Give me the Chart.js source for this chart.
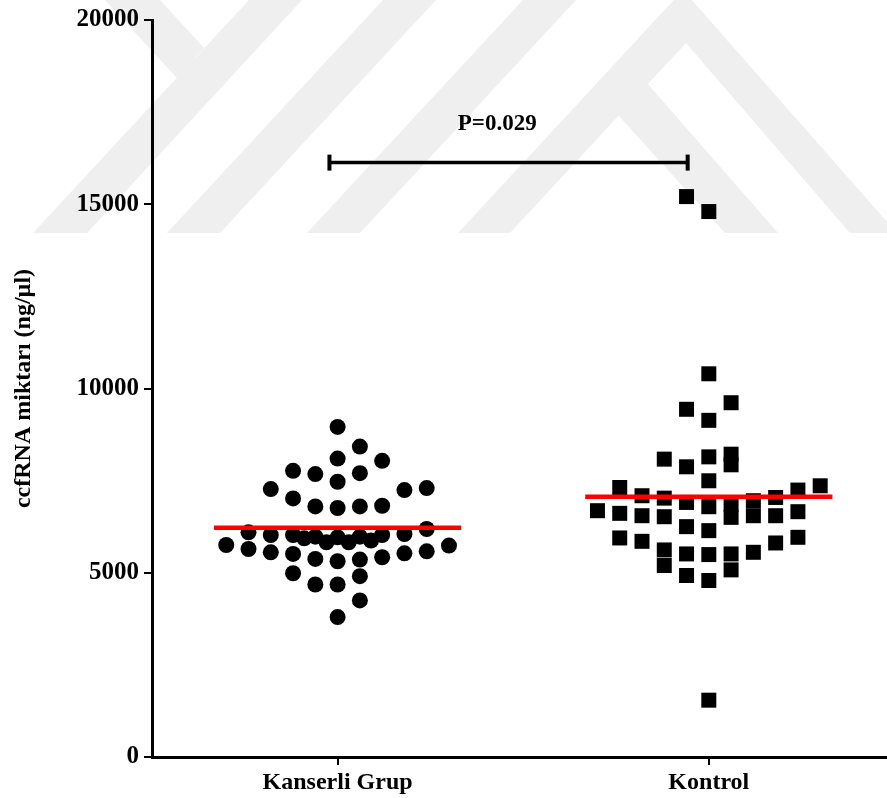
<!DOCTYPE html>
<html lang="tr">
<head>
<meta charset="utf-8">
<title>ccfRNA miktarı</title>
<script src="https://cdn.jsdelivr.net/npm/chart.js"></script>
<style>
    html, body { margin: 0; padding: 0; background: #fff; }
    #wrap { width: 887px; height: 798px; position: relative; }
</style>
</head>
<body>
<div id="wrap"><canvas id="dot-chart"></canvas></div>
<script>
// Datos
const groupLabels = ['Kanserli Grup', 'Kontrol'];
const yTicks = [0, 5000, 10000, 15000, 20000];

// Kanserli Grup (círculos): valor y desplazamiento horizontal dentro del grupo
const kanserliValues = [
    8957, 8424, 8099, 8037, 7766, 7677, 7703, 7469, 7271, 7244, 7298, 7016,
    6800, 6757, 6800, 6819,
    6097, 6025, 6025, 5934, 5980, 5825, 5962, 5825, 5980, 5872, 6025, 6052, 6188,
    5753, 5645, 5555, 5510, 5375, 5312, 5358, 5420, 5528, 5582, 5737,
    4987, 4906, 4681, 4681, 4248, 3797
];
const kanserliOffsets = [
    0, 0.06, 0, 0.12, -0.12, -0.06, 0.06, 0, -0.18, 0.18, 0.24, -0.12,
    -0.06, 0, 0.06, 0.12,
    -0.24, -0.18, -0.12, -0.09, -0.06, -0.03, 0, 0.03, 0.06, 0.09, 0.12, 0.18, 0.24,
    -0.3, -0.24, -0.18, -0.12, -0.06, 0, 0.06, 0.12, 0.18, 0.24, 0.3,
    -0.12, 0.06, -0.06, 0, 0.06, 0
];

// Kontrol (cuadrados)
const kontrolValues = [
    15208, 14802, 10399, 9436, 9614, 9136,
    8083, 7875, 8145, 8218, 7929, 7496,
    7314, 7090, 7025, 6908, 6792, 6864, 6503, 6955, 6548, 7043, 6548, 7244, 7360,
    6684, 6612, 6548, 6521, 6251, 6143, 6657,
    5944, 5853, 5619, 5196, 5511, 5493, 5511, 5078, 5555, 5808, 5962,
    4925, 4790, 1542
];
const kontrolOffsets = [
    -0.06, 0, 0, -0.06, 0.06, 0,
    -0.12, -0.06, 0, 0.06, 0.06, 0,
    -0.24, -0.18, -0.12, -0.06, 0, 0.06, 0.06, 0.12, 0.12, 0.18, 0.18, 0.24, 0.3,
    -0.3, -0.24, -0.18, -0.12, -0.06, 0, 0.24,
    -0.24, -0.18, -0.12, -0.12, -0.06, 0, 0.06, 0.06, 0.12, 0.18, 0.24,
    -0.06, 0, 0
];

// Medianas (líneas rojas) y su semiancho en unidades de grupo
const medians = [6224, 7063];
const medianHalfWidth = 0.333;

// Barra de significancia
const bracketX = [0.978, 1.943];
const bracketY = 16130;
const pLabel = 'P=0.029';
const pLabelPos = { x: 1.43, y: 17180 };

const serif = "'Times New Roman', 'Liberation Serif', serif";

function toPoints(values, offsets, groupIndex) {
    return values.map((v, i) => ({ x: groupIndex + 1 + offsets[i], y: v }));
}

// Marca de agua de fondo (decorativa, en píxeles)
const watermark = [
    [[33, 233], [87, 233], [302, 0], [249, 0]],
    [[105, 0], [160, 0], [204, 48], [177, 78]],
    [[167, 233], [220, 233], [436, 0], [383, 0]],
    [[307, 233], [360, 233], [576, 0], [523, 0]],
    [[458, 233], [683, -10], [897, 233], [850, 233], [686, 43], [510, 233]],
    [[600, 95], [640, 75], [778, 233], [725, 233]]
];

const backgroundPlugin = {
    id: 'background',
    beforeDraw(chart) {
        const ctx = chart.ctx;
        ctx.save();
        ctx.fillStyle = '#ffffff';
        ctx.fillRect(0, 0, chart.width, chart.height);
        ctx.fillStyle = '#efefef';
        watermark.forEach(poly => {
            ctx.beginPath();
            poly.forEach(([x, y], i) => i ? ctx.lineTo(x, y) : ctx.moveTo(x, y));
            ctx.closePath();
            ctx.fill();
        });
        ctx.restore();
    }
};

const pValuePlugin = {
    id: 'pValue',
    afterDatasetsDraw(chart) {
        const { ctx, scales } = chart;
        ctx.save();
        ctx.font = 'bold 23px ' + serif;
        ctx.fillStyle = '#000';
        ctx.textAlign = 'center';
        ctx.textBaseline = 'middle';
        ctx.fillText(pLabel, scales.x.getPixelForValue(pLabelPos.x), scales.y.getPixelForValue(pLabelPos.y));
        ctx.restore();
    }
};

const ctx = document.getElementById('dot-chart').getContext('2d');
new Chart(ctx, {
    type: 'scatter',
    data: {
        datasets: [
            {
                label: groupLabels[0],
                data: toPoints(kanserliValues, kanserliOffsets, 0),
                pointStyle: 'circle',
                pointRadius: 8,
                pointBorderWidth: 0,
                backgroundColor: '#000',
                borderColor: '#000',
                order: 2
            },
            {
                label: groupLabels[1],
                data: toPoints(kontrolValues, kontrolOffsets, 1),
                pointStyle: 'rect',
                pointRadius: 10.6,
                pointBorderWidth: 0,
                backgroundColor: '#000',
                borderColor: '#000',
                order: 2
            },
            ...medians.map((m, i) => ({
                label: 'Medyan ' + groupLabels[i],
                data: [{ x: i + 1 - medianHalfWidth, y: m }, { x: i + 1 + medianHalfWidth, y: m }],
                showLine: true,
                borderColor: '#ff0000',
                borderWidth: 4.5,
                pointRadius: 0,
                order: 0
            })),
            {
                label: 'P',
                data: bracketX.map(x => ({ x: x, y: bracketY })),
                showLine: true,
                borderColor: '#000',
                borderWidth: 3.5,
                pointStyle: 'line',
                rotation: 90,
                pointRadius: 8,
                pointBorderWidth: 4,
                pointBorderColor: '#000',
                order: 1
            }
        ]
    },
    options: {
        responsive: true,
        maintainAspectRatio: false,
        animation: false,
        layout: { autoPadding: false, padding: { top: 18, left: 0, right: 0, bottom: 0 } },
        plugins: {
            legend: { display: false },
            tooltip: { enabled: false }
        },
        scales: {
            x: {
                type: 'linear',
                min: 0.5,
                max: 2.48,
                afterBuildTicks: axis => { axis.ticks = [{ value: 1 }, { value: 2 }]; },
                afterFit: scale => { scale.height = 41; },
                ticks: {
                    callback: (value, index) => groupLabels[index],
                    font: { family: serif, size: 24, weight: 'bold' },
                    color: '#000',
                    padding: 3,
                    maxRotation: 0
                },
                grid: { drawOnChartArea: false, drawTicks: true, tickLength: 8, color: '#000', lineWidth: 2 },
                border: { display: true, color: '#000', width: 3 }
            },
            y: {
                min: 0,
                max: 20000,
                afterBuildTicks: axis => { axis.ticks = yTicks.map(v => ({ value: v })); },
                afterFit: scale => { scale.width = 152; },
                ticks: {
                    font: { family: serif, size: 25, weight: 'bold' },
                    color: '#000',
                    padding: 5,
                    callback: value => String(value)
                },
                grid: { drawOnChartArea: false, drawTicks: true, tickLength: 8, color: '#000', lineWidth: 2 },
                border: { display: true, color: '#000', width: 3 },
                title: {
                    display: true,
                    text: 'ccfRNA miktarı (ng/µl)',
                    font: { family: serif, size: 24, weight: 'bold' },
                    color: '#000',
                    padding: { top: 9, bottom: 0 }
                }
            }
        }
    },
    plugins: [backgroundPlugin, pValuePlugin]
});
</script>
</body>
</html>
